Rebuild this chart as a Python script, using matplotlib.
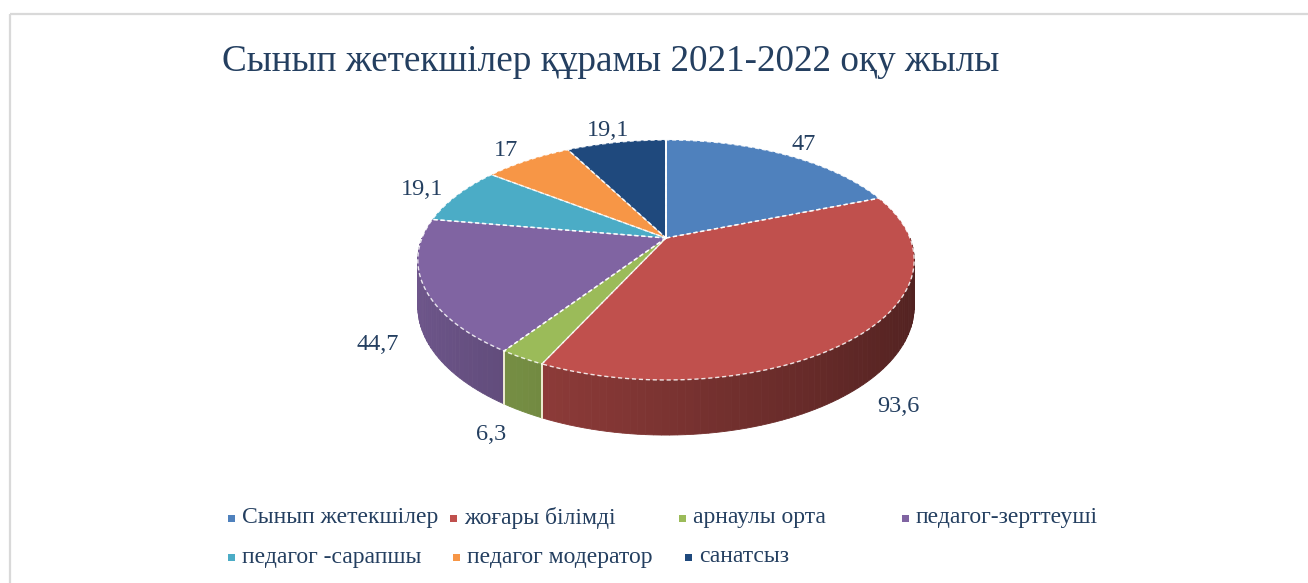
import numpy as np
import matplotlib
matplotlib.use("Agg")
import matplotlib.pyplot as plt
from matplotlib.patches import Polygon, Rectangle
from matplotlib.colors import to_rgb

# ---- data ----
title = "Сынып жетекшілер құрамы 2021-2022 оқу жылы"
categories = ["Сынып жетекшілер", "жоғары білімді", "арнаулы орта", "педагог-зерттеуші",
              "педагог -сарапшы", "педагог модератор", "санатсыз"]
values = [47, 93.6, 6.3, 44.7, 19.1, 17, 19.1]
value_labels = ["47", "93,6", "6,3", "44,7", "19,1", "17", "19,1"]
colors = ["#4F81BD", "#C0504D", "#9BBB59", "#8064A2", "#4BACC6", "#F79646", "#1F497D"]

plt.rcParams['font.family'] = ['Liberation Serif', 'DejaVu Serif']
TXT = "#243F60"

W, H_ = 1308, 583
fig = plt.figure(figsize=(W / 100, H_ / 100), dpi=100)
ax = fig.add_axes([0, 0, 1, 1])
ax.set_xlim(0, W)
ax.set_ylim(H_, 0)
ax.axis('off')

# frame
ax.add_patch(Rectangle((9.5, 13.5), 1400, 700, fill=False, edgecolor="#D9D9D9", lw=1.6))

# ---- 3D pie projection (pixel space) ----
cx, cy = 666, 238
A, K, E, TH = 244, 116, 0.183, 45


def proj(theta_deg, r=1.0, z=0.0):
    t = np.radians(theta_deg)
    u = r * np.cos(t)
    v = r * np.sin(t)
    s = 1.0 / (1.0 + E * v)
    return cx + A * u * s, cy - K * v * s + z * TH * s


total = float(sum(values))
bounds = 90 - 360 * np.concatenate([[0], np.cumsum(values)]) / total

# side walls (front half: theta in [-180, 0])
for i, col in enumerate(colors):
    t0, t1 = bounds[i], bounds[i + 1]
    lo, hi = max(t1, -180), min(t0, 0)
    if lo >= hi:
        continue
    base = np.array(to_rgb(col))
    n = max(2, int((hi - lo) / 1.5))
    edges = np.linspace(hi, lo, n + 1)
    for a0, a1 in zip(edges[:-1], edges[1:]):
        am = 0.5 * (a0 + a1)
        f = 0.64 - 0.22 * np.cos(np.radians(am))
        c = np.clip(base * f, 0, 1)
        ts = np.linspace(a0, a1, 4)
        top = [proj(t) for t in ts]
        bot = [proj(t, z=1) for t in ts[::-1]]
        ax.add_patch(Polygon(top + bot, closed=True, facecolor=c, edgecolor=c, lw=0.6))
    # light separators at wall ends
    for t in (lo, hi):
        if t not in (-180, 0):
            x0, y0 = proj(t)
            x1, y1 = proj(t, z=1)
            ax.plot([x0, x1], [y0, y1], color="#EDEBD0", lw=1.3, zorder=3)

# top faces
for i, col in enumerate(colors):
    t0, t1 = bounds[i], bounds[i + 1]
    ts = np.linspace(t0, t1, 120)
    pts = [(cx, cy)] + [proj(t) for t in ts]
    ax.add_patch(Polygon(pts, closed=True, facecolor=col, edgecolor="none", zorder=4))
    ax.add_patch(Polygon(pts, closed=True, fill=False, edgecolor="white", lw=1.0,
                         linestyle=(0, (3, 2)), zorder=5, alpha=0.85))

# solid white line at start angle
xs, ys = proj(bounds[0])
ax.plot([cx, xs], [cy, ys], color="white", lw=1.4, zorder=6)

# data labels
for i, lab in enumerate(value_labels):
    tm = 0.5 * (bounds[i] + bounds[i + 1])
    t = np.radians(tm)
    u, v = np.cos(t), np.sin(t)
    r = 1.15
    s = 1.0 / (1.0 + E * v * r)
    x = cx + A * 1.18 * u * s
    y = cy - K * r * v * s
    if v < 0:
        y += TH * s
    ax.text(x, y, lab, ha='center', va='center', fontsize=17.5, color=TXT, zorder=7)

# title
ax.text(611, 62, title, ha='center', va='center', fontsize=26.8, color=TXT)

# legend
leg_pos = [(231, 518), (453, 518), (682, 518), (905, 518),
           (231, 557), (456, 557), (688, 557)]
for (lx, ly), name, col in zip(leg_pos, categories, colors):
    ax.add_patch(Rectangle((lx - 3.5, ly - 3.5), 7, 7, facecolor=col, edgecolor='none'))
    ax.text(lx + 11, ly, name, ha='left', va='center', fontsize=17, color=TXT)

fig.savefig("out.png", dpi=100)
